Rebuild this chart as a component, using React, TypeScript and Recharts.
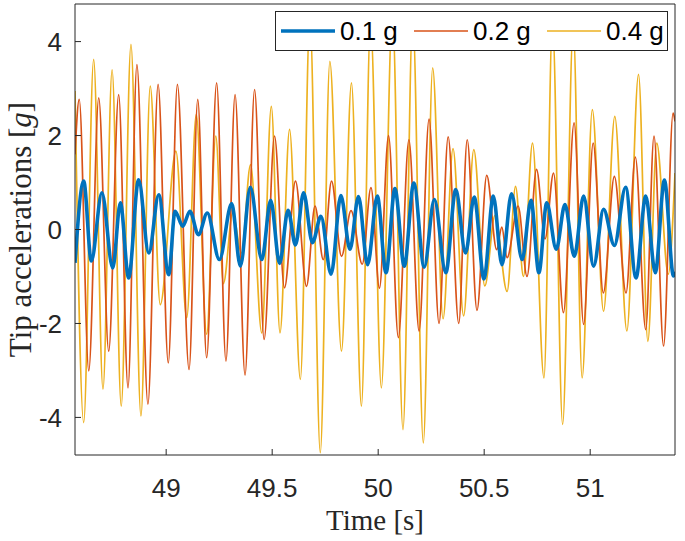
import { LineChart, Line, XAxis, YAxis, Legend } from "recharts";

// tip acceleration time histories (peaks / troughs)
const T_01 = [
  48.570, 48.611, 48.647, 48.697, 48.748, 48.784, 48.823, 48.870, 48.918, 48.965,
  49.012, 49.042, 49.078, 49.112, 49.152, 49.194, 49.251, 49.309, 49.350, 49.397,
  49.451, 49.493, 49.535, 49.575, 49.610, 49.648, 49.690, 49.730, 49.778, 49.824,
  49.867, 49.907, 49.950, 49.996, 50.037, 50.079, 50.123, 50.168, 50.217, 50.265,
  50.319, 50.366, 50.412, 50.453, 50.499, 50.543, 50.584, 50.629, 50.679, 50.721,
  50.758, 50.795, 50.840, 50.881, 50.925, 50.969, 51.016, 51.063, 51.114, 51.167,
  51.216, 51.262, 51.307, 51.350, 51.393, 51.400,
];
const G_01 = [
  -0.71, 1.03, -0.67, 0.78, -0.82, 0.57, -1.03, 1.06, -0.5, 0.74,
  -0.96, 0.39, 0.07, 0.39, -0.11, 0.35, -0.64, 0.55, -0.78, 0.9,
  -0.64, 0.62, -0.72, 0.41, -0.33, 0.78, -0.28, 0.28, -0.95, 0.72,
  -0.42, 0.7, -0.75, 0.71, -0.92, 0.87, -0.78, 0.99, -0.8, 0.64,
  -0.92, 0.85, -0.5, 0.69, -1.05, 0.71, -0.75, 0.76, -0.64, 0.62,
  -0.92, 0.57, -0.42, 0.53, -0.57, 0.71, -0.78, 0.43, -0.34, 0.9,
  -1.03, 0.71, -0.92, 1.05, -0.99, -0.9,
];

const T_02 = [
  48.570, 48.590, 48.635, 48.682, 48.729, 48.776, 48.820, 48.862, 48.914, 48.962,
  49.010, 49.053, 49.108, 49.149, 49.191, 49.238, 49.282, 49.325, 49.372, 49.417,
  49.462, 49.511, 49.558, 49.610, 49.662, 49.702, 49.741, 49.780, 49.827, 49.872,
  49.925, 49.966, 50.006, 50.049, 50.095, 50.145, 50.193, 50.240, 50.287, 50.330,
  50.380, 50.420, 50.466, 50.512, 50.559, 50.583, 50.608, 50.660, 50.702, 50.747,
  50.787, 50.827, 50.874, 50.924, 50.969, 51.014, 51.062, 51.114, 51.169, 51.213,
  51.262, 51.301, 51.346, 51.391, 51.400,
];
const G_02 = [
  1.6, 2.77, -3.01, 2.8, -2.59, 2.87, -3.37, 3.51, -3.72, 3.09,
  -2.84, 3.09, -2.98, 2.77, -2.73, 3.12, -2.8, 2.87, -3.1, 2.98,
  -2.34, 1.99, -1.24, 1.03, -1.21, 0.5, -0.64, 1.03, -0.57, 0.4,
  -0.74, 0.89, -1.25, 2.0, -2.3, 1.91, -2.16, 2.35, -2.0, 1.97,
  -2.0, 1.91, -1.72, 1.15, -0.43, 0.05, -0.6, 0.5, -1.0, 1.28,
  -0.2, 1.2, -1.77, 2.27, -2.02, 1.84, -1.35, 1.13, -1.35, 1.54,
  -2.13, 1.99, -2.48, 2.48, 2.3,
];

const T_04 = [
  48.570, 48.611, 48.658, 48.702, 48.745, 48.788, 48.834, 48.881, 48.925, 48.972,
  49.046, 49.097, 49.142, 49.191, 49.234, 49.270, 49.314, 49.355, 49.398, 49.451,
  49.496, 49.537, 49.582, 49.633, 49.678, 49.727, 49.772, 49.827, 49.874, 49.921,
  49.964, 50.015, 50.067, 50.117, 50.163, 50.213, 50.257, 50.306, 50.353, 50.403,
  50.451, 50.503, 50.551, 50.608, 50.648, 50.685, 50.728, 50.782, 50.822, 50.870,
  50.920, 50.962, 51.010, 51.063, 51.116, 51.173, 51.228, 51.272, 51.314, 51.368,
  51.400,
];
const G_04 = [
  2.95, -4.11, 3.62, -3.4, 3.4, -3.76, 3.94, -3.97, 3.05, -1.6,
  1.67, -1.88, 2.45, -2.23, 1.99, -1.15, 0.35, -0.5, 1.38, -2.2,
  2.62, -2.2, 2.13, -3.19, 4.5, -4.75, 3.58, -2.59, 3.12, -3.76,
  4.4, -3.37, 4.6, -4.26, 4.5, -4.54, 3.44, -1.9, 1.72, -1.84,
  1.7, -1.2, 0.3, -1.32, 0.92, -1.0, 1.84, -3.16, 4.4, -4.15,
  4.3, -3.16, 2.55, -1.74, 2.41, -2.16, 3.3, -2.38, 1.84, -0.95,
  1.2,
];

const X_DOMAIN = [48.57, 51.4];
const Y_DOMAIN = [-4.8, 4.8];
const X_TICKS = [49, 49.5, 50, 50.5, 51];
const Y_TICKS = [-4, -2, 0, 2, 4];

const zip = (t: number[], g: number[]) => t.map((x, i) => ({ t: x, g: g[i] }));

const SERIES = [
  { name: "0.1 g", data: zip(T_01, G_01), color: "#0072BD", width: 3.6 },
  { name: "0.2 g", data: zip(T_02, G_02), color: "#D95319", width: 1.7 },
  { name: "0.4 g", data: zip(T_04, G_04), color: "#EDB120", width: 1.7 },
];

const AXIS = "#262626";
const SANS = "'Liberation Sans', Arial, Helvetica, sans-serif";
const SERIF = "'Liberation Serif', 'Times New Roman', serif";
const tickFont = { fill: AXIS, fontSize: 26, fontFamily: SANS };

function XLabel({ viewBox }: any) {
  const { x, y, width } = viewBox;
  return (
    <text x={x + width / 2} y={y + 75} textAnchor="middle" fill={AXIS} fontSize={29} fontFamily={SERIF}>
      Time [s]
    </text>
  );
}

function YLabel({ viewBox }: any) {
  const { y, height } = viewBox;
  const cy = y + height / 2;
  return (
    <text
      x={31}
      y={cy}
      transform={`rotate(-90 31 ${cy})`}
      textAnchor="middle"
      fill={AXIS}
      fontSize={31}
      fontFamily={SERIF}
    >
      Tip accelerations [<tspan fontStyle="italic">g</tspan>]
    </text>
  );
}

function LegendBox() {
  return (
    <div
      style={{
        position: "relative",
        width: 393,
        height: 40,
        boxSizing: "border-box",
        border: `1px solid ${AXIS}`,
        background: "#fff",
        fontFamily: SANS,
        fontSize: 26,
        color: "#000",
      }}
    >
      {SERIES.map((s, i) => (
        <div
          key={s.name}
          style={{ position: "absolute", left: 5 + i * 133, top: 0, height: 38, display: "flex", alignItems: "center" }}
        >
          <svg width={54} height={10}>
            <line x1={0} y1={5} x2={54} y2={5} stroke={s.color} strokeWidth={s.width} />
          </svg>
          <span style={{ marginLeft: 5, lineHeight: "38px" }}>{s.name}</span>
        </div>
      ))}
    </div>
  );
}

export default function App() {
  return (
    <div style={{ position: "absolute", left: 0, top: 0, width: 685, height: 541, background: "#fff" }}>
      <LineChart width={685} height={541} margin={{ top: 3, right: 9, bottom: 0, left: 0 }}>
        <XAxis
          xAxisId="b"
          type="number"
          dataKey="t"
          domain={X_DOMAIN}
          ticks={X_TICKS}
          allowDataOverflow
          height={86}
          stroke={AXIS}
          tickSize={-6}
          tickMargin={30}
          tick={tickFont}
          label={<XLabel />}
        />
        {/* top / right axes only close the box and carry inward ticks */}
        <XAxis
          xAxisId="top"
          orientation="top"
          type="number"
          dataKey="t"
          domain={X_DOMAIN}
          ticks={X_TICKS}
          allowDataOverflow
          height={1}
          stroke={AXIS}
          tickSize={-6}
          tick={false}
        />
        <YAxis
          yAxisId="l"
          type="number"
          domain={Y_DOMAIN}
          ticks={Y_TICKS}
          allowDataOverflow
          width={75}
          stroke={AXIS}
          tickSize={-6}
          tickMargin={19}
          tick={tickFont}
          label={<YLabel />}
        />
        <YAxis
          yAxisId="r"
          orientation="right"
          type="number"
          domain={Y_DOMAIN}
          ticks={Y_TICKS}
          allowDataOverflow
          width={1}
          stroke={AXIS}
          tickSize={-6}
          tick={false}
        />
        <Line
          xAxisId="top"
          yAxisId="r"
          data={SERIES[0].data}
          dataKey="g"
          stroke="none"
          dot={false}
          activeDot={false}
          legendType="none"
          isAnimationActive={false}
        />
        {[...SERIES].reverse().map((s) => (
          <Line
            key={s.name}
            xAxisId="b"
            yAxisId="l"
            data={s.data}
            dataKey="g"
            name={s.name}
            type="monotone"
            stroke={s.color}
            strokeWidth={s.width}
            dot={false}
            activeDot={false}
            isAnimationActive={false}
          />
        ))}
        <Legend
          layout="horizontal"
          verticalAlign="middle"
          align="center"
          wrapperStyle={{ top: 11, left: 275, width: 393, height: 40 }}
          content={<LegendBox />}
        />
      </LineChart>
    </div>
  );
}
